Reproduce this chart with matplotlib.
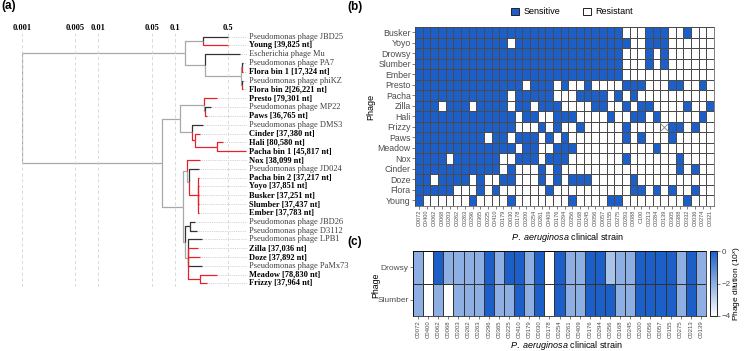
import numpy as np
import matplotlib
matplotlib.use('Agg')
import matplotlib.pyplot as plt
from matplotlib.colors import ListedColormap, LinearSegmentedColormap
from matplotlib.patches import Patch

plt.rcParams['font.family'] = 'Liberation Sans'
plt.rcParams['mathtext.fontset'] = 'custom'
plt.rcParams['mathtext.it'] = 'Liberation Sans:italic'
plt.rcParams['mathtext.rm'] = 'Liberation Sans'

W, H = 745, 351
BLUE = '#1c5fc9'
RED = '#e8202a'
DARK = '#333333'
LIGHT = '#a8a8a8'
TXT = '#4d4d4d'

# ---- (a) tree: leaves are (label, distance), nodes are (distance, [children])
tree = (0.001, [
    (0.137, [
        (0.236, [('Pseudomonas phage JBD25', 0.501), ('Young [39,825 nt]', 0.501)]),
        (0.250, [('Escherichia phage Mu', 0.719),
                 (0.74, [(0.77, [('Pseudomonas phage PA7', 0.79), ('Flora bin 1 [17,324 nt]', 0.79)]),
                         (0.77, [('Pseudomonas phage phiKZ', 0.79), ('Flora bin 2[26,221 nt]', 0.80)])])])]),
    (0.0684, [
        (0.118, [
            (0.243, [('Presto [79,301 nt]', 0.36),
                     (0.254, [('Pseudomonas phage MP22', 0.30), ('Paws [36,765 nt]', 0.266)])]),
            (0.169, [('Pseudomonas phage DMS3', 0.236),
                     (0.185, [('Cinder [37,380 nt]', 0.215),
                              (0.36, [('Hali [80,580 nt]', 0.428), ('Pacha bin 1 [45,817 nt]', 0.86)])])])]),
        (0.129, [
            (0.146, [('Nox [38,099 nt]', 0.215),
                     (0.155, [('Pseudomonas phage JD024', 0.209),
                              (0.203, [('Pacha bin 2 [37,217 nt]', 0.209), ('Yoyo [37,851 nt]', 0.209),
                                       ('Busker [37,251 nt]', 0.209), ('Slumber [37,437 nt]', 0.209),
                                       ('Ember [37,783 nt]', 0.209)])])]),
            (0.137, [(0.159, [('Pseudomonas phage JBD26', 0.185), ('Pseudomonas phage D3112', 0.197)]),
                     (0.150, [('Pseudomonas phage LPB1', 0.229), ('Zilla [37,036 nt]', 0.203),
                              ('Doze [37,892 nt]', 0.215), ('Pseudomonas phage PaMx73', 0.229),
                              (0.215, [('Meadow [78,830 nt]', 0.36), ('Frizzy [37,964 nt]', 0.266)])])])])])])

tree_ticks = [0.001, 0.005, 0.01, 0.05, 0.1, 0.5]

# ---- (b) host range
phages = ['Busker', 'Yoyo', 'Drowsy', 'Slumber', 'Ember', 'Presto', 'Pacha', 'Zilla',
          'Hali', 'Frizzy', 'Paws', 'Meadow', 'Nox', 'Cinder', 'Doze', 'Flora', 'Young']
strains_b = ['C0072', 'C0400', 'C0062', 'C0068', 'C0203', 'C0262', 'C0263', 'C0296', 'C0365',
             'C0225', 'C0410', 'C0179', 'C0030', 'C0178', 'C0200', 'C0254', 'C0261', 'C0409',
             'C0176', 'C0294', 'C0356', 'C0168', 'C0245', 'C0056', 'C0057', 'C0155', 'C0275',
             'C0293', 'C0088', 'C100', 'C0213', 'C0284', 'C0139', 'C0305', 'C0388', 'C0332',
             'C0036', 'C0274', 'C0321']
# 1 = sensitive, 0 = resistant, x = not tested (groups of ten strains)
host_range = [
    '1111111111 1111111111 1111111000 111001000',  # Busker
    '1111111111 1101111111 1111111100 111000000',  # Yoyo
    '1111111111 1111111111 1111111000 101000000',  # Drowsy
    '1111111111 1111111111 1111111000 101000000',  # Slumber
    '1111111111 1111111111 1111111000 000000000',  # Ember
    '1111111111 1111011101 0010000111 000110010',  # Presto
    '1111111111 1101111100 0111101010 000000000',  # Pacha
    '1110111011 1101101110 0001100101 100001001',  # Zilla
    '1111111111 1110110011 1000010011 010000010',  # Hali
    '1111111111 1110001010 0100000100 00x110100',  # Frizzy
    '1111111110 1101110101 0000000101 000100000',  # Paws
    '1111111111 1110110011 1000000000 010000000',  # Meadow
    '1111011111 1001110111 0000000100 000010000',  # Nox
    '1111111111 1010001010 0000000000 000010100',  # Cinder
    '1101111010 0110001010 1110000010 000000000',  # Doze
    '1111100010 1000000100 0000000011 010100100',  # Flora
    '1000000100 0010000000 1000011000 000001000',  # Young
]
host_range = [r.replace(' ', '') for r in host_range]

# ---- (c) efficiency of plating
strains_c = ['C0072', 'C0400', 'C0062', 'C0068', 'C0203', 'C0262', 'C0263', 'C0296', 'C0365',
             'C0225', 'C0410', 'C0179', 'C0030', 'C0178', 'C0254', 'C0261', 'C0409', 'C0176',
             'C0294', 'C0356', 'C0168', 'C0245', 'C0200', 'C0056', 'C0057', 'C0155', 'C0275',
             'C0213', 'C0139']
eop_phages = ['Drowsy', 'Slumber']
drowsy = [-2, -4, 0, -2, -2, -2, -2, 0, -2, 0, 0, -2, 0, -4, 0, -2, -2, 0, 0, -2.5,
          -2, -2, 0, 0, 0, 0, -2, 0, -2]
slumber = [-2, -4, -2, -4, -2, -2, -2, 0, -2, -2, 0, -2, 0, -4, 0, -2, -2, 0, 0, 0,
           -2, -2, 0, 0, 0, 0, -2, 0, -2]


def box(x0, y0, x1, y1):
    return [x0 / W, 1 - y1 / H, (x1 - x0) / W, (y1 - y0) / H]


fig = plt.figure(figsize=(W / 100, H / 100), dpi=100)

# ================= (a)
ax = fig.add_axes(box(22, 33, 246.6, 287))
count = [0]


def place(node):
    if isinstance(node[0], str):
        y = count[0]
        count[0] += 1
        kind = 'study' if '[' in node[0] else 'ref'
        return {'x': node[1], 'y': y, 'label': node[0], 'kids': [], 'kind': kind}
    kids = [place(k) for k in node[1]]
    kinds = set(k['kind'] for k in kids)
    kind = kinds.pop() if len(kinds) == 1 else 'mix'
    return {'x': node[0], 'y': np.mean([k['y'] for k in kids]), 'kids': kids, 'kind': kind}


root = place(tree)
colors = {'study': RED, 'ref': DARK, 'mix': LIGHT}
zord = {'study': 3, 'ref': 2, 'mix': 1}
leaves = []


def draw(node):
    if not node['kids']:
        leaves.append(node)
    for k in node['kids']:
        c = colors[k['kind']]
        ax.plot([node['x'], node['x'], k['x']], [node['y'], k['y'], k['y']],
                color=c, lw=0.9, zorder=zord[k['kind']], solid_capstyle='butt')
        draw(k)


draw(root)
n = count[0]
ax.set_xscale('log')
xmax = 0.88
ax.set_xlim(0.001, xmax)
ax.set_ylim(n - 1 + 0.4, -0.4)
for lf in leaves:
    ax.plot([lf['x'], xmax], [lf['y'], lf['y']], color='#c4c4c4', lw=0.6,
            ls=(0, (1, 1.2)), zorder=0)
    study = lf['kind'] == 'study'
    ax.annotate(lf['label'], (xmax, lf['y']), xytext=(1.5, 0), textcoords='offset points',
                ha='left', va='center', fontsize=6, family='Liberation Serif',
                fontweight='bold' if study else 'normal',
                color='black' if study else '#404040', annotation_clip=False)
ax.minorticks_off()
ax.set_xticks(tree_ticks)
ax.set_xticklabels([str(t) for t in tree_ticks], family='Liberation Serif',
                   fontweight='bold', fontsize=6)
ax.xaxis.tick_top()
ax.tick_params(axis='x', length=0, pad=1)
ax.set_yticks([])
ax.grid(axis='x', color='#d4d4d4', ls=(0, (4, 3)), lw=0.6)
for s in ax.spines.values():
    s.set_visible(False)

# ================= (b)
axb = fig.add_axes(box(415, 27, 714, 205.6))
Z = np.array([[1 if ch == '1' else 0 for ch in row] for row in host_range])
axb.pcolormesh(Z, cmap=ListedColormap(['white', BLUE]), vmin=0, vmax=1,
               edgecolors='#4a4a4a', linewidth=0.45)
for r, row in enumerate(host_range):
    for c, ch in enumerate(row):
        if ch == 'x':
            axb.scatter(c + 0.5, r + 0.5, marker='x', s=40, color='#888888', linewidths=0.6)
axb.set_xlim(0, len(strains_b))
axb.set_ylim(len(host_range), 0)
axb.set_yticks(np.arange(len(host_range)) + 0.5)
axb.set_yticklabels(phages, fontsize=6.3, color=TXT)
axb.set_xticks(np.arange(len(strains_b)) + 0.5)
axb.set_xticklabels(strains_b, rotation=90, fontsize=4, color=TXT)
axb.tick_params(length=2, width=0.5, color=TXT, pad=1)
for s in axb.spines.values():
    s.set_linewidth(0.5)
    s.set_color('#4a4a4a')
fig.text(371 / W, 1 - 107 / H, 'Phage', rotation=90, ha='center', va='center', fontsize=6.5)
fig.text(567 / W, 1 - 237 / H, r'$\it{P.\ aeruginosa}$ clinical strain',
         ha='center', va='center', fontsize=6.5)
fig.legend(handles=[Patch(facecolor=BLUE, edgecolor='#222222', lw=0.7, label='Sensitive'),
                    Patch(facecolor='white', edgecolor='#222222', lw=0.7, label='Resistant')],
           loc='center', bbox_to_anchor=(572 / W, 1 - 12 / H), ncol=2, frameon=False,
           fontsize=6.5, handlelength=0.9, handleheight=0.9, handletextpad=0.4,
           columnspacing=2.6)

# ================= (c)
axc = fig.add_axes(box(413, 251, 706, 316))
cmap_c = LinearSegmentedColormap.from_list('eop', ['white', BLUE])
M = np.array([drowsy, slumber])
mesh = axc.pcolormesh(M, cmap=cmap_c, vmin=-4, vmax=0, edgecolors='#333333', linewidth=0.5)
axc.set_xlim(0, len(strains_c))
axc.set_ylim(2, 0)
axc.set_yticks([0.5, 1.5])
axc.set_yticklabels(eop_phages, fontsize=6, color=TXT)
axc.set_xticks(np.arange(len(strains_c)) + 0.5)
axc.set_xticklabels(strains_c, rotation=90, fontsize=4.3, color=TXT)
axc.tick_params(length=2, width=0.5, color=TXT, pad=1)
for s in axc.spines.values():
    s.set_linewidth(0.5)
fig.text(376 / W, 1 - 285 / H, 'Phage', rotation=90, ha='center', va='center', fontsize=6.3)
fig.text(566 / W, 1 - 346 / H, r'$\it{P.\ aeruginosa}$ clinical strain',
         ha='center', va='center', fontsize=6.5)

cax = fig.add_axes(box(710, 251, 717, 316))
cb = fig.colorbar(mesh, cax=cax, ticks=[0, -2, -4])
cb.outline.set_linewidth(0.6)
cax.tick_params(labelsize=5.8, length=2, width=0.5, pad=1.5, colors=TXT)
cax.set_ylabel(r'Phage dilution (10$^x$)', fontsize=6, labelpad=1)

# panel letters
fig.text(1 / W, 1 - 6 / H, '(a)', fontsize=8.5, fontweight='bold', ha='left', va='center')
fig.text(355 / W, 1 - 7 / H, '(b)', fontsize=8.5, fontweight='bold', ha='center', va='center')
fig.text(355 / W, 1 - 242 / H, '(c)', fontsize=8.5, fontweight='bold', ha='center', va='center')

fig.savefig('out.png', dpi=100)
